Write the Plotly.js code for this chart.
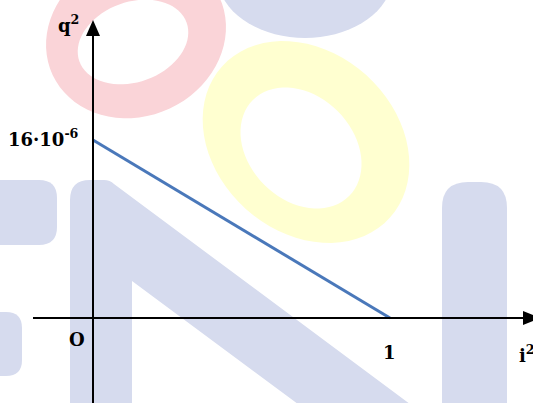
<!DOCTYPE html>
<html>
<head>
<meta charset="utf-8">
<script src="https://cdn.plot.ly/plotly-3.0.1.min.js"></script>
<style>html,body{margin:0;padding:0;background:#fff;}#chart{width:533px;height:403px;}</style>
</head>
<body>
<div id="chart"></div>
<script>
// ---- data ----
const xValues = [0, 1];              // i^2
const yValues = [16e-6, 0];          // q^2
const yTickValue = 16e-6;
const yTickLabel = "16·10<sup>-6</sup>";
const xTickValue = 1;
const xTickLabel = "1";
const originLabel = "O";
const xAxisLabel = "i<sup>2</sup>";
const yAxisLabel = "q<sup>2</sup>";

// ---- layout helpers (decoration only) ----
const W = 533, H = 403;
const px = x => x / W;
const py = y => 1 - y / H;
const P = (x, y) => px(x).toFixed(5) + ',' + py(y).toFixed(5);

function ellipsePath(cx, cy, a, b, deg) {
  const th = deg * Math.PI / 180, n = 72;
  let s = '';
  for (let i = 0; i <= n; i++) {
    const t = 2 * Math.PI * i / n;
    const x = cx + a * Math.cos(t) * Math.cos(th) - b * Math.sin(t) * Math.sin(th);
    const y = cy + a * Math.cos(t) * Math.sin(th) + b * Math.sin(t) * Math.cos(th);
    s += (i === 0 ? 'M' : 'L') + P(x, y) + ' ';
  }
  return s + 'Z ';
}
function rrect(x0, y0, x1, y1, rtl, rtr, rbr, rbl) {
  return 'M' + P(x0 + rtl, y0) + ' L' + P(x1 - rtr, y0) +
    ' Q' + P(x1, y0) + ' ' + P(x1, y0 + rtr) +
    ' L' + P(x1, y1 - rbr) + ' Q' + P(x1, y1) + ' ' + P(x1 - rbr, y1) +
    ' L' + P(x0 + rbl, y1) + ' Q' + P(x0, y1) + ' ' + P(x0, y1 - rbl) +
    ' L' + P(x0, y0 + rtl) + ' Q' + P(x0, y0) + ' ' + P(x0 + rtl, y0) + ' Z';
}

const wmBlue = 'rgb(214,219,238)';
const wmPink = 'rgb(250,212,216)';
const wmYellow = 'rgb(255,255,208)';
const wm = (path, color) => ({type: 'path', xref: 'paper', yref: 'paper', path: path,
  fillcolor: color, line: {width: 0}, layer: 'below', fillrule: 'evenodd'});

const shapes = [
  wm(ellipsePath(305, -25, 88, 63, 0), wmBlue),
  wm(rrect(-5, 180, 57, 245, 0, 18, 18, 0), wmBlue),
  wm(rrect(-5, 312, 22, 376, 0, 16, 16, 0), wmBlue),
  wm('M' + P(70, 410) + ' L' + P(70, 200) + ' Q' + P(70, 180) + ' ' + P(90, 180) +
     ' L' + P(104, 180) + ' Q' + P(110, 180) + ' ' + P(114, 184) +
     ' L' + P(418, 410) + ' L' + P(306, 410) + ' L' + P(132, 281) + ' L' + P(132, 410) + ' Z', wmBlue),
  wm(rrect(442, 182, 507, 410, 26, 26, 0, 0), wmBlue),
  wm(ellipsePath(306, 142, 113, 90, 42) + ellipsePath(301, 148, 68, 52, 45), wmYellow),
  wm(ellipsePath(136, 36, 92, 80, -25) + ellipsePath(133, 42, 57, 40, -20), wmPink),
  // y axis
  {type: 'line', xref: 'x', yref: 'paper', x0: 0, x1: 0, y0: 0, y1: py(30),
   line: {color: '#000', width: 2}, layer: 'above'},
  {type: 'path', xref: 'x', yref: 'paper', xsizemode: 'pixel', ysizemode: 'pixel',
   xanchor: 0, yanchor: py(20), path: 'M-7,-16 L0,0 L7,-16 Z',
   fillcolor: '#000', line: {width: 0}, layer: 'above'},
  // x axis
  {type: 'line', xref: 'paper', yref: 'y', x0: px(33), x1: px(526), y0: 0, y1: 0,
   line: {color: '#000', width: 2}, layer: 'above'},
  {type: 'path', xref: 'paper', yref: 'y', xsizemode: 'pixel', ysizemode: 'pixel',
   xanchor: px(540), yanchor: 0, path: 'M-17,7 L0,0 L-17,-7 Z',
   fillcolor: '#000', line: {width: 0}, layer: 'above'}
];

const lblFont = {family: 'DejaVu Serif, serif', size: 18, color: '#000', weight: 'bold'};

const annotations = [
  {xref: 'x', yref: 'y', x: 0, y: yTickValue, text: yTickLabel, showarrow: false,
   xanchor: 'right', yanchor: 'middle', xshift: -12, yshift: 2, font: lblFont},
  {xref: 'x', yref: 'y', x: 0, y: 0, text: originLabel, showarrow: false,
   xanchor: 'right', yanchor: 'top', xshift: -6, yshift: -9, font: lblFont},
  {xref: 'x', yref: 'y', x: xTickValue, y: 0, text: xTickLabel, showarrow: false,
   xanchor: 'center', yanchor: 'top', xshift: -1, yshift: -22, font: lblFont},
  {xref: 'x', yref: 'paper', x: 0, y: py(24), text: yAxisLabel, showarrow: false,
   xanchor: 'right', yanchor: 'middle', xshift: -12, font: lblFont},
  {xref: 'paper', yref: 'y', x: px(517), y: 0, text: xAxisLabel, showarrow: false,
   xanchor: 'left', yanchor: 'top', yshift: -22, font: lblFont}
];

// axis ranges chosen so that x=0 sits at 93px, x=1 at 390px, y=0 at 318px, y=16e-6 at 140px
const x0px = 93, x1px = 390, y0px = 318, y1px = 140;
const xPerPx = (xValues[1] - xValues[0]) / (x1px - x0px);
const yPerPx = (yValues[0] - yValues[1]) / (y0px - y1px);

const trace = {
  x: xValues, y: yValues, type: 'scatter', mode: 'lines',
  line: {color: '#4a78ba', width: 3}, hoverinfo: 'skip'
};

const layout = {
  width: W, height: H,
  margin: {l: 0, r: 0, t: 0, b: 0, pad: 0},
  paper_bgcolor: '#ffffff', plot_bgcolor: 'rgba(0,0,0,0)',
  showlegend: false,
  xaxis: {range: [-x0px * xPerPx, (W - x0px) * xPerPx], visible: false, fixedrange: true},
  yaxis: {range: [-(H - y0px) * yPerPx, y0px * yPerPx], visible: false, fixedrange: true},
  shapes: shapes,
  annotations: annotations
};

Plotly.newPlot('chart', [trace], layout, {displayModeBar: false, staticPlot: true});
</script>
</body>
</html>
